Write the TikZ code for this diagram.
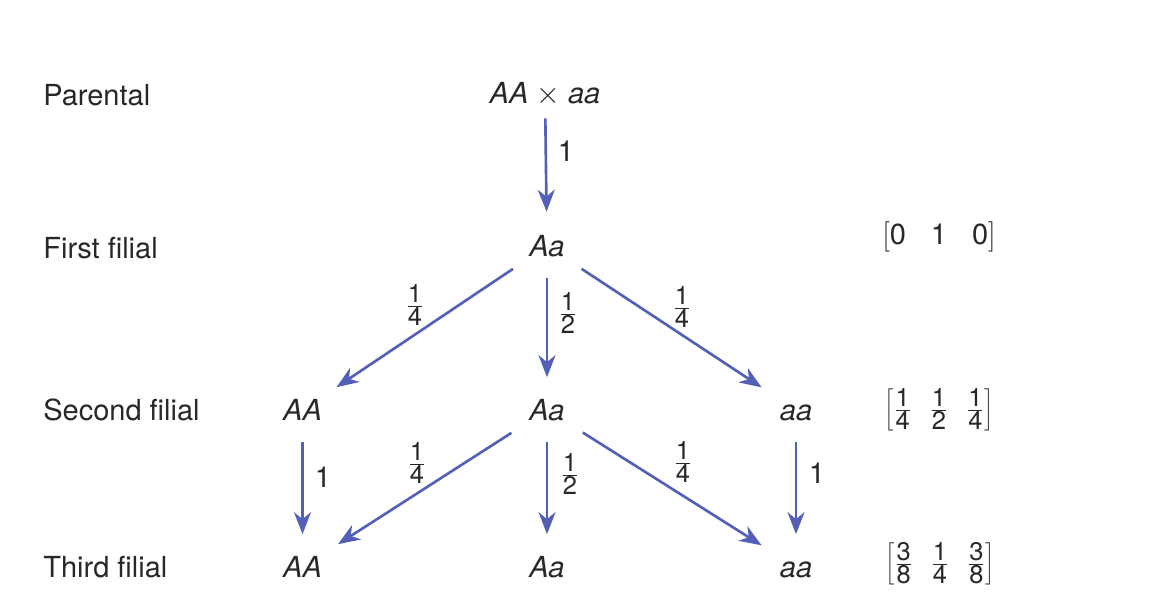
\documentclass[tikz,border=0pt]{standalone}
\usepackage{fontspec}
\setmainfont{TeX Gyre Heros}
\usetikzlibrary{arrows.meta}
\definecolor{arrowblue}{RGB}{84,96,184}
\definecolor{inkgrey}{RGB}{40,40,40}
\newcommand{\probfracm}[2]{\frac{\mbox{#1}}{\mbox{#2}}}
\newcommand{\probfrac}[2]{$\probfracm{#1}{#2}$}

\begin{document}
\begin{tikzpicture}[
  geno/.style={font=\fontsize{16.5}{20}\selectfont\itshape, text=inkgrey,
    text height=0.42cm, text depth=0pt, inner xsep=0.36cm, inner ysep=0.24cm},
  rowname/.style={font=\fontsize{16.5}{20}\selectfont, text=inkgrey, anchor=west,
    text height=0.42cm, text depth=0pt, inner sep=0pt},
  prob/.style={font=\fontsize{16.5}{20}\selectfont, text=inkgrey, inner sep=0pt},
  fracprob/.style={font=\fontsize{14.5}{17}\selectfont, text=inkgrey, inner sep=0pt},
  distrib/.style={font=\fontsize{14.5}{17}\selectfont, text=inkgrey, inner sep=0pt},
  arr/.style={draw=arrowblue, line width=1.5pt,
    -{Stealth[length=0.44cm, width=0.34cm, inset=0.14cm]}},
  vert/.style={arr, shorten <=0.18cm, shorten >=0.2cm}
]
\useasboundingbox[fill=white] (0,0) rectangle (23.220,12.140);
\node[rowname] (r0) at (0.860,10.240) {Parental};
\node[rowname] (r1) at (0.860,7.180) {First filial};
\node[rowname] (r2) at (0.860,3.940) {Second filial};
\node[rowname] (r3) at (0.860,0.800) {Third filial};
\node[geno] (par) at (10.900,10.280) {AA $\times$ aa};
\node[geno] (f1) at (10.940,7.220) {Aa};
\node[geno] (s1) at (6.050,3.940) {AA};
\node[geno] (s2) at (10.940,3.940) {Aa};
\node[geno] (s3) at (15.920,3.940) {aa};
\node[geno] (t1) at (6.050,0.800) {AA};
\node[geno] (t2) at (10.940,0.800) {Aa};
\node[geno] (t3) at (15.920,0.800) {aa};
\draw[vert, shorten <=0.05cm, shorten >=0.23cm] (par) -- (f1);
\draw[arr] (f1) -- (s1);
\draw[vert] (f1) -- (s2);
\draw[arr] (f1) -- (s3);
\draw[vert] (s1) -- (t1);
\draw[arr] (s2) -- (t1);
\draw[vert] (s2) -- (t2);
\draw[arr] (s2) -- (t3);
\draw[vert] (s3) -- (t3);
\node[prob] (p0) at (11.320,9.120) {1};
\node[fracprob] (p1) at (8.300,6.040) {\probfrac{1}{4}};
\node[fracprob] (p2) at (11.360,5.880) {\probfrac{1}{2}};
\node[fracprob] (p3) at (13.640,6.000) {\probfrac{1}{4}};
\node[prob] (p4) at (6.460,2.600) {1};
\node[fracprob] (p5) at (8.340,2.880) {\probfrac{1}{4}};
\node[fracprob] (p6) at (11.400,2.660) {\probfrac{1}{2}};
\node[fracprob] (p7) at (13.660,2.900) {\probfrac{1}{4}};
\node[prob] (p8) at (16.340,2.680) {1};
\node[distrib, font=\fontsize{16.5}{20}\selectfont] (d1) at (18.780,7.400)
  {$\Bigl[\mbox{0}\hspace{0.5cm}\mbox{1}\hspace{0.5cm}\mbox{0}\Bigr]$};
\node[distrib] (d2) at (18.780,3.940)
  {$\left[\probfracm{1}{4}\hspace{0.36cm}\probfracm{1}{2}\hspace{0.36cm}\probfracm{1}{4}\right]$};
\node[distrib] (d3) at (18.800,0.860)
  {$\left[\probfracm{3}{8}\hspace{0.36cm}\probfracm{1}{4}\hspace{0.36cm}\probfracm{3}{8}\right]$};
\end{tikzpicture}
\end{document}
